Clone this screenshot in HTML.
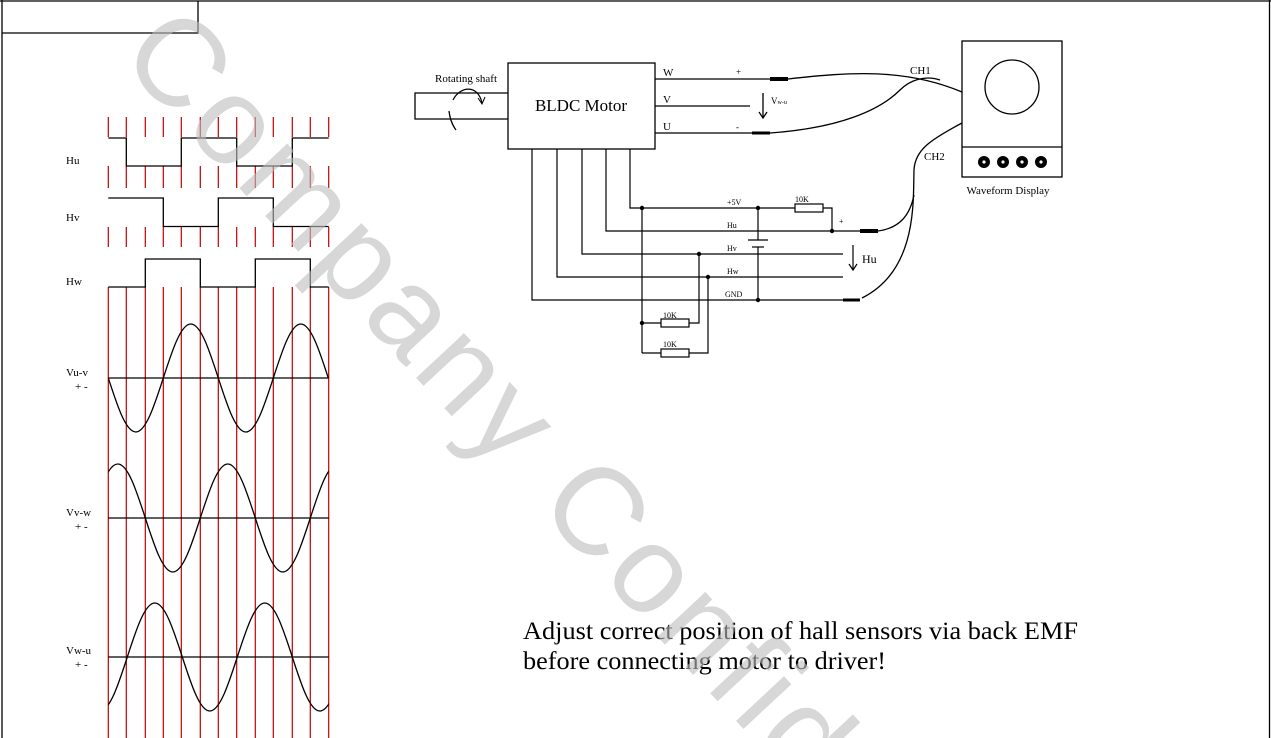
<!DOCTYPE html>
<html><head><meta charset="utf-8">
<style>
html,body{margin:0;padding:0;background:#fff;width:1271px;height:738px;overflow:hidden;}
svg{display:block;}
text{font-family:"Liberation Serif",serif;fill:#000;}
</style></head>
<body>
<svg width="1271" height="738" viewBox="0 0 1271 738" xmlns="http://www.w3.org/2000/svg" overflow="hidden">
<defs><clipPath id="pg"><rect x="0" y="0" width="1271" height="738"/></clipPath></defs>
<!-- frame -->
<g stroke="#000" stroke-width="1.3" fill="none">
<line x1="0" y1="1" x2="1271" y2="1"/>
<line x1="2" y1="0" x2="2" y2="738"/>
<line x1="1269.5" y1="0" x2="1269.5" y2="738"/>
<polyline points="2,33 198,33 198,1"/>
</g>

<!-- red grid lines -->
<path stroke="#c00000" stroke-width="1.2" fill="none" d="
M108.3,117V137M126.3,117V137M145.3,117V137M163.3,117V137M181.3,117V137M200.3,117V137M218.3,117V137M236.7,117V137M255.3,117V137M273.3,117V137M292.3,117V137M310.3,117V137M328.7,117V137
M108.3,166V188M126.3,166V188M145.3,166V188M163.3,166V188M181.3,166V188M200.3,166V188M218.3,166V188M236.7,166V188M255.3,166V188M273.3,166V188M292.3,166V188M310.3,166V188M328.7,166V188
M108.3,227V247M126.3,227V247M145.3,227V247M163.3,227V247M181.3,227V247M200.3,227V247M218.3,227V247M236.7,227V247M255.3,227V247M273.3,227V247M292.3,227V247M310.3,227V247M328.7,227V247
M108.3,287V738M126.3,287V738M145.3,287V738M163.3,287V738M181.3,287V738M200.3,287V738M218.3,287V738M236.7,287V738M255.3,287V738M273.3,287V738M292.3,287V738M310.3,287V738M328.7,287V738"/>

<!-- hall signals -->
<g stroke="#000" stroke-width="1.3" fill="none">
<polyline points="108.3,138 126.3,138 126.3,166 181.3,166 181.3,138 236.7,138 236.7,166 292.3,166 292.3,138 328.7,138"/>
<polyline points="108.3,198 163.3,198 163.3,226.5 218.3,226.5 218.3,198 273.3,198 273.3,226.5 328.7,226.5"/>
<polyline points="108.3,287 145.3,287 145.3,259 200.3,259 200.3,287 255.3,287 255.3,259 310.3,259 310.3,287 328.7,287"/>
<line x1="108.3" y1="378" x2="328.7" y2="378"/>
<line x1="108.3" y1="518" x2="328.7" y2="518"/>
<line x1="108.3" y1="657" x2="328.7" y2="657"/>
</g>
<clipPath id="wc"><rect x="108.3" y="290" width="220.4" height="448"/></clipPath>
<g stroke="#000" stroke-width="1.3" fill="none" clip-path="url(#wc)">
<path d="M108.3,378 C117.5,406.4 125.9,432 135.8,432 C145.7,432 154.1,406.4 163.3,378 C172.5,349.6 180.9,324 190.8,324 C200.7,324 209.1,349.6 218.3,378 C227.5,406.4 235.9,432 245.8,432 C255.7,432 264.1,406.4 273.3,378 C282.5,349.6 290.9,324 300.8,324 C310.7,324 319.1,349.6 328.3,378"/>
<path d="M90.3,518 C99.5,489.6 107.9,464 117.8,464 C127.7,464 136.1,489.6 145.3,518 C154.5,546.4 162.9,572 172.8,572 C182.7,572 191.1,546.4 200.3,518 C209.5,489.6 217.9,464 227.8,464 C237.7,464 246.1,489.6 255.3,518 C264.5,546.4 272.9,572 282.8,572 C292.7,572 301.1,546.4 310.3,518 C319.5,489.6 327.9,464 337.8,464"/>
<path d="M72.3,657 C81.5,685.4 89.9,711 99.8,711 C109.7,711 118.1,685.4 127.3,657 C136.5,628.6 144.9,603 154.8,603 C164.7,603 173.1,628.6 182.3,657 C191.5,685.4 199.9,711 209.8,711 C219.7,711 228.1,685.4 237.3,657 C246.5,628.6 254.9,603 264.8,603 C274.7,603 283.1,628.6 292.3,657 C301.5,685.4 309.9,711 319.8,711 C329.7,711 338.1,685.4 347.3,657"/>
</g>
<g font-size="11">
<text x="66" y="164">Hu</text>
<text x="66" y="221">Hv</text>
<text x="66" y="285">Hw</text>
<text x="66" y="376">Vu-v</text>
<text x="75" y="390">+ -</text>
<text x="66" y="516">Vv-w</text>
<text x="75" y="530">+ -</text>
<text x="66" y="654">Vw-u</text>
<text x="75" y="668">+ -</text>
</g>

<!-- motor -->
<g stroke="#000" stroke-width="1.3" fill="none">
<rect x="508" y="63" width="147" height="86"/>
<polyline points="508,93 415,93 415,119 508,119"/>
<path d="M453,100 C460,86 478,84 482,103"/>
<path d="M478,98 L482,104 L485,97" stroke-width="1"/>
<path d="M449,111 C450,120 453,126 456,130"/>
<line x1="655" y1="79" x2="770" y2="79"/>
<line x1="655" y1="106" x2="750" y2="106"/>
<line x1="655" y1="133" x2="752" y2="133"/>
<line x1="763" y1="93" x2="763" y2="118"/>
<polyline points="759,112 763,118 767,112"/>
<path d="M788,79 C850,72 905,68 962,92"/>
<path d="M770,133 C840,128 880,110 900,90 C910,80 925,75 940,80"/>
<path d="M962,123 C930,140 915,150 914,170 C913,200 918,270 862,298"/>
<path d="M914,195 C910,215 900,228 878,231"/>
</g>
<g stroke="#000" stroke-linecap="butt">
<line x1="770" y1="79" x2="788" y2="79" stroke-width="4"/>
<line x1="752" y1="133" x2="770" y2="133" stroke-width="3"/>
<line x1="860" y1="231" x2="878" y2="231" stroke-width="4"/>
<line x1="843" y1="300" x2="860" y2="300" stroke-width="3"/>
</g>
<text x="435" y="82" font-size="11">Rotating shaft</text>
<text x="581" y="111" font-size="17" text-anchor="middle">BLDC Motor</text>
<text x="663" y="76" font-size="11">W</text>
<text x="663" y="103" font-size="11">V</text>
<text x="663" y="130" font-size="11">U</text>
<text x="736" y="75" font-size="9">+</text>
<text x="736" y="130" font-size="9">-</text>
<text x="771" y="104" font-size="9">V<tspan font-size="6">w-u</tspan></text>

<!-- scope -->
<g stroke="#000" stroke-width="1.3" fill="none">
<rect x="962" y="41" width="100" height="136"/>
<line x1="962" y1="147" x2="1062" y2="147"/>
<circle cx="1012" cy="87" r="27"/>
</g>
<g fill="#000">
<circle cx="984" cy="162" r="6"/><circle cx="1003" cy="162" r="6"/><circle cx="1022" cy="162" r="6"/><circle cx="1041" cy="162" r="6"/>
</g>
<g fill="#fff">
<circle cx="984" cy="162" r="1.6"/><circle cx="1003" cy="162" r="1.6"/><circle cx="1022" cy="162" r="1.6"/><circle cx="1041" cy="162" r="1.6"/>
</g>
<text x="1008" y="194" font-size="11" text-anchor="middle">Waveform Display</text>
<text x="910" y="74" font-size="11">CH1</text>
<text x="924" y="160" font-size="11">CH2</text>

<!-- hall wiring -->
<g stroke="#000" stroke-width="1.2" fill="none">
<polyline points="630,149 630,208 795,208"/>
<polyline points="823,208 832,208 832,231"/>
<polyline points="606,149 606,231 860,231"/>
<polyline points="582,149 582,254 843,254"/>
<polyline points="557,149 557,277 843,277"/>
<polyline points="532,149 532,300 843,300"/>
<line x1="642" y1="208" x2="642" y2="353"/>
<line x1="758" y1="208" x2="758" y2="240"/>
<line x1="758" y1="247" x2="758" y2="300"/>
<line x1="748" y1="240" x2="768" y2="240"/>
<line x1="752" y1="247" x2="764" y2="247"/>
<rect x="795" y="204" width="28" height="8"/>
<line x1="642" y1="323" x2="661" y2="323"/>
<rect x="661" y="319" width="28" height="8"/>
<polyline points="689,323 699,323 699,254"/>
<line x1="642" y1="353" x2="661" y2="353"/>
<rect x="661" y="349" width="28" height="8"/>
<polyline points="689,353 708,353 708,277"/>
<line x1="853" y1="245" x2="853" y2="270"/>
<polyline points="849,264 853,270 857,264"/>
</g>
<g fill="#000">
<circle cx="642" cy="208" r="2.2"/><circle cx="758" cy="208" r="2.2"/><circle cx="832" cy="231" r="2.2"/>
<circle cx="699" cy="254" r="2.2"/><circle cx="708" cy="277" r="2.2"/><circle cx="758" cy="300" r="2.2"/>
<circle cx="642" cy="323" r="2.2"/>
</g>
<g font-size="8">
<text x="727" y="205">+5V</text>
<text x="727" y="228">Hu</text>
<text x="727" y="251">Hv</text>
<text x="727" y="274">Hw</text>
<text x="725" y="297">GND</text>
<text x="795" y="202">10K</text>
<text x="663" y="318">10K</text>
<text x="663" y="347">10K</text>
<text x="839" y="224">+</text>
</g>
<text x="862" y="263" font-size="12">Hu</text>

<!-- note -->
<text x="523" y="639" font-size="25" textLength="555" lengthAdjust="spacingAndGlyphs">Adjust correct position of hall sensors via back EMF</text>
<text x="523" y="669" font-size="25" textLength="363" lengthAdjust="spacingAndGlyphs">before connecting motor to driver!</text>

<!-- watermark -->
<g clip-path="url(#pg)">
<g transform="translate(178,58) rotate(47)">
<text x="-42" y="44" font-size="124" letter-spacing="6" style="font-family:'Liberation Sans',sans-serif;fill:#bdbdbd;opacity:0.6">Company Confide</text>
</g>
</g>
</svg>
</body></html>
